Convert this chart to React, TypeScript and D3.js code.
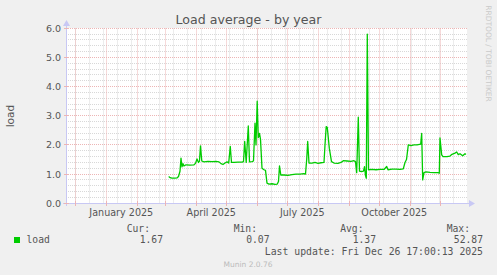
import React from 'react';
import * as d3 from 'd3';

const title = 'Load average - by year';
const yLabel = 'load';
const yMajorTicks = [0, 1, 2, 3, 4, 5, 6];
const xLabelDates = ['2025-01-16', '2025-04-16', '2025-07-16', '2025-10-16'];
const xLabels = ['January 2025', 'April 2025', 'July 2025', 'October 2025'];

// days since 2025-01-01 00:00 UTC
const dayOffsets = [
  62.4, 63.7, 65.7, 68.7, 70.7, 72.2, 73.7, 74.7, 75.7, 76.7, 77.7, 79.7, 83.7, 87.7, 89.2, 90.7,
  92.2, 93.2, 94.2, 95.5, 97.7, 101.7, 105.7, 109.7, 112.7, 114.7, 116.7, 118.7, 120.7, 122.4, 124,
  125.2, 127.7, 131.7, 135.7, 137.2, 138.4, 139.9, 142, 143.2, 145.7, 147.2, 148.7, 149.7, 150.9,
  152, 153.2, 154.2, 155.7, 157.7, 159.2, 160.7, 162.7, 165.7, 168.7, 171, 172.2, 173.2, 174.5,
  177.7, 181.7, 185.7, 189.7, 193.7, 197.7, 199.2, 200.4, 201.4, 202.7, 205.7, 208.7, 211.7, 214.7,
  217.7, 218.7, 219.9, 221, 223, 225.2, 227.7, 231.7, 234.7, 237, 240.7, 244.7, 247.7, 249.2, 250.4,
  252, 253.2, 255.2, 257.2, 258.2, 259.2, 260, 261, 262.2, 265.7, 269.7, 273.7, 277.7, 280.4, 281.7,
  285.7, 289.7, 293.7, 297, 298.7, 300.2, 302, 304.7, 307.7, 310.7, 314.4, 315.4, 316.4, 317.7,
  319.7, 323.7, 327.7, 331.7, 333, 333.7, 335.4, 336.7, 340.7, 343.7, 345.7, 348.7, 350.4, 352,
  353.7, 356.4, 358.7, 359.7,
];
const loadValues = [
  0.92, 0.88, 0.86, 0.86, 0.87, 0.92, 1.1, 1.55, 1.25, 1.36, 1.28, 1.32, 1.31, 1.32, 1.37, 1.52,
  1.4, 1.45, 1.97, 1.45, 1.42, 1.44, 1.43, 1.44, 1.42, 1.36, 1.33, 1.38, 1.42, 1.38, 1.95,
  1.4, 1.4, 1.41, 1.41, 1.43, 2.12, 1.4, 2.65, 1.42, 1.43, 1.45, 2.75, 2.0, 3.5,
  2.25, 2.4, 2.2, 1.2, 1.15, 1.13, 0.69, 0.66, 0.67, 0.65, 0.66, 0.75, 1.28, 0.97,
  0.97, 0.96, 0.98, 1.0, 1.0, 1.02, 1.0, 1.5, 2.12, 1.38, 1.38, 1.4, 1.37, 1.39,
  1.4, 2.0, 2.63, 2.6, 1.89, 1.43, 1.38, 1.37, 1.4, 1.46, 1.45, 1.44, 1.46, 1.43, 1.05,
  2.95, 1.1, 1.09, 1.1, 1.26, 0.95, 0.86, 5.8, 1.15, 1.16, 1.15, 1.16, 1.16, 1.26, 1.15,
  1.17, 1.17, 1.16, 1.18, 1.4, 1.5, 2.0, 1.98, 2.0, 2.0, 2.03, 2.4, 0.8, 1.05,
  1.08, 1.06, 1.05, 1.05, 1.03, 2.24, 1.66, 1.6, 1.6, 1.62, 1.68, 1.72, 1.76, 1.67,
  1.7, 1.63, 1.7, 1.67,
];

const legendSeries = 'load';
const legendHeaders = ['Cur:', 'Min:', 'Avg:', 'Max:'];
const legendValues = ['1.67', '0.07', '1.37', '52.87'];
const lastUpdate = 'Last update: Fri Dec 26 17:00:13 2025';
const footer = 'Munin 2.0.76';
const watermark = 'RRDTOOL / TOBI OETIKER';

const W = 497;
const H = 275;
const startT = new Date(Date.UTC(2024, 10, 21, 17, 0, 13));
const endT = new Date(Date.UTC(2025, 11, 26, 17, 0, 13));

export default function App() {
  const x = d3.scaleUtc().domain([startT, endT]).range([66, 466]);
  const y = d3.scaleLinear().domain([0, 6]).range([203.3, 28.3]);
  const px = (v: number) => Math.floor(v) + 0.5;
  const gridLeft = 66;
  const gridRight = 468;
  const top = 28.5;
  const bottom = 203.5;

  const monthTicks = d3.utcMonth.range(startT, endT);
  const biweekly: Date[] = [];
  for (let t = Date.UTC(2024, 11, 1); t < +endT; t += 14 * 86400000) biweekly.push(new Date(t));

  const minorH: number[] = d3.range(0, 6.0001, 0.2).filter((v) => Math.abs(v - Math.round(v)) > 0.01);

  const pts = dayOffsets.map((d, i) => [new Date(Date.UTC(2025, 0, 1) + d * 86400000), loadValues[i]] as [Date, number]);
  const line = d3
    .line<[Date, number]>()
    .x((d) => x(d[0]))
    .y((d) => y(d[1]));

  const sans = 'DejaVu Sans, sans-serif';
  const mono = 'DejaVu Sans Mono, monospace';
  const textColor = '#555555';
  const axisColor = '#C8C8F4';
  const minorColor = '#D8D8D8';
  const majorColor = '#EDB5B5';

  const headerRight = [150, 257, 363.5, 470];
  const valueRight = [163, 269.5, 376, 483];

  return (
    <svg width={W} height={H} style={{ position: 'absolute', left: 0, top: 0 }} xmlns="http://www.w3.org/2000/svg">
      <rect x={0} y={0} width={W} height={H} fill="#F0F0F0" />
      <rect x={66} y={28} width={401} height={176} fill="#FFFFFF" />

      {/* minor grid */}
      {minorH.map((v, i) => (
        <line key={'mh' + i} x1={gridLeft} x2={gridRight} y1={px(y(v))} y2={px(y(v))} stroke={minorColor} strokeWidth={1} strokeDasharray="1,1" />
      ))}
      {biweekly.map((d, i) => (
        <line key={'mv' + i} x1={px(x(d))} x2={px(x(d))} y1={top} y2={bottom} stroke={minorColor} strokeWidth={1} strokeDasharray="1,1" />
      ))}
      {/* major grid */}
      {yMajorTicks.map((v) => (
        <line key={'Mh' + v} x1={gridLeft} x2={gridRight} y1={px(y(v))} y2={px(y(v))} stroke={majorColor} strokeWidth={1} strokeDasharray="1,1" />
      ))}
      {monthTicks.map((d, i) => (
        <line key={'Mv' + i} x1={px(x(d))} x2={px(x(d))} y1={top} y2={bottom} stroke={majorColor} strokeWidth={1} strokeDasharray="1,1" />
      ))}

      {/* axes */}
      <line x1={63} x2={470} y1={bottom} y2={bottom} stroke={axisColor} strokeWidth={1} />
      <line x1={66.5} x2={66.5} y1={206} y2={25} stroke={axisColor} strokeWidth={1} />
      <path d="M469,200 L475,203.5 L469,207 Z" fill={axisColor} />
      <path d="M63,26 L66.5,20 L70,26 Z" fill={axisColor} />
      {monthTicks.map((d, i) => (
        <line key={'xt' + i} x1={px(x(d))} x2={px(x(d))} y1={201} y2={206} stroke={majorColor} strokeWidth={1} />
      ))}
      {yMajorTicks.map((v) => (
        <line key={'yt' + v} x1={64} x2={69} y1={px(y(v))} y2={px(y(v))} stroke={majorColor} strokeWidth={1} />
      ))}

      {/* data */}
      <path d={line(pts) || ''} fill="none" stroke="#00CC00" strokeWidth={1.3} strokeLinejoin="round" />

      {/* title */}
      <text x={248.5} y={24} textAnchor="middle" fontFamily={sans} fontSize={12.6} fill={textColor}>
        {title}
      </text>

      {/* y tick labels */}
      {yMajorTicks.map((v) => (
        <text key={'yl' + v} x={61} y={px(y(v)) + 3.3} textAnchor="end" fontFamily={sans} fontSize={9.5} fill={textColor}>
          {v.toFixed(1)}
        </text>
      ))}
      <text transform="translate(14,116) rotate(-90)" textAnchor="middle" fontFamily={sans} fontSize={10.6} fill={textColor}>
        {yLabel}
      </text>

      {/* x labels */}
      {xLabelDates.map((s, i) => (
        <text key={'xl' + i} x={x(new Date(s + 'T00:00:00Z'))} y={216} textAnchor="middle" fontFamily={sans} fontSize={9.6} fill={textColor}>
          {xLabels[i]}
        </text>
      ))}

      {/* legend */}
      {legendHeaders.map((h, i) => (
        <text key={'lh' + i} x={headerRight[i]} y={232} textAnchor="end" fontFamily={mono} fontSize={9.7} fill={textColor}>
          {h}
        </text>
      ))}
      <rect x={14} y={237} width={6} height={6} fill="#00CC00" />
      <text x={26.5} y={243} fontFamily={mono} fontSize={9.7} fill={textColor}>
        {legendSeries}
      </text>
      {legendValues.map((v, i) => (
        <text key={'lv' + i} x={valueRight[i]} y={243} textAnchor="end" fontFamily={mono} fontSize={9.7} fill={textColor}>
          {v}
        </text>
      ))}
      <text x={483} y={255} textAnchor="end" fontFamily={mono} fontSize={9.8} fill={textColor}>
        {lastUpdate}
      </text>
      <text x={248} y={267} textAnchor="middle" fontFamily={sans} fontSize={7.5} fill="#BBBBBB">
        {footer}
      </text>
      <text transform="translate(485.5,53.5) rotate(90)" textAnchor="middle" fontFamily={sans} fontSize={7.5} fill="#CACACA">
        {watermark}
      </text>
    </svg>
  );
}
